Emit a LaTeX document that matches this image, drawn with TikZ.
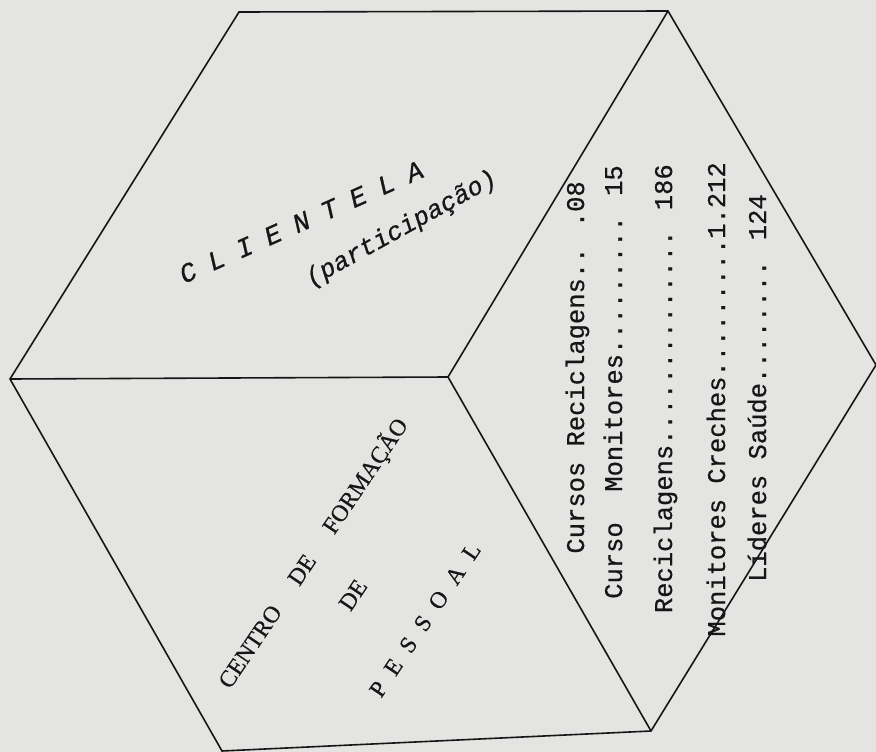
\documentclass[tikz,border=0pt]{standalone}
\usepackage{fontspec}
\setmainfont{Liberation Serif}
\newfontfamily\monof[FakeBold=0.6]{Liberation Mono}
\newfontfamily\serifb[FakeBold=0.5]{Liberation Serif}
\definecolor{paper}{RGB}{228,228,226}
\definecolor{ink}{RGB}{22,22,22}
\newcommand{\cgap}{\hspace{14.8pt}}
\newcommand{\pgap}{\hspace{13pt}}
\begin{document}
\begin{tikzpicture}[x=1pt,y=-1pt,
  edge/.style={draw=ink, line width=1.6pt, line join=miter},
  txt/.style={inner sep=0pt, text=ink},
  cltext/.style={txt, font=\monof\itshape\fontsize{27}{31}\selectfont, anchor=base west},
  ptext/.style={txt, font=\monof\itshape\fontsize{25.5}{29}\selectfont, anchor=base west},
  cfp/.style={txt, font=\serifb\fontsize{23.5}{28}\selectfont},
  rline/.style={txt, font=\monof\fontsize{25.5}{30}\selectfont, rotate=90, anchor=base east}]
\fill[paper] (0,0) rectangle (876,752);
\useasboundingbox (0,0) rectangle (876,752);
% vertices
\coordinate (TL) at (239,12);
\coordinate (TR) at (668,11);
\coordinate (R) at (876,365);
\coordinate (BR) at (651,731);
\coordinate (BL) at (222,751);
\coordinate (L) at (10,379);
\coordinate (C) at (448,377);
\draw[edge] (TL) -- (TR) -- (R) -- (BR) -- (BL) -- (L) -- cycle;
\draw[edge] (L) -- (C) -- (TR);
\draw[edge] (C) -- (BR);
% top face
\node[cltext, rotate=24] (clientela) at (184,284) {C\cgap L\cgap I\cgap E\cgap N\cgap T\cgap E\cgap L\cgap A};
\node[ptext, rotate=29] (particip) at (311,287) {(participação)};
% left face
\node[cfp, rotate=56, anchor=base west] (centro) at (230,690) {CENTRO\hspace{30pt}DE\hspace{31pt}FORMAÇÃO};
\node[cfp, rotate=56] (de) at (353,595) {DE};
\node[cfp, rotate=56, anchor=base west] (pessoal) at (381,699) {P\pgap E\pgap S\pgap S\pgap O\pgap A\pgap L};
% right face
\node[rline] (r1) at (584,181) {Cursos Reciclagens.. .08};
\node[rline] (r2) at (622,165) {Curso~~Monitores......... 15};
\node[rline] (r3) at (672,164) {Reciclagens.............. 186};
\node[rline] (r4) at (725,162) {Monitores Creches.........1.212};
\node[rline] (r5) at (766,194) {Líderes Saúde........ 124};
\end{tikzpicture}
\end{document}
